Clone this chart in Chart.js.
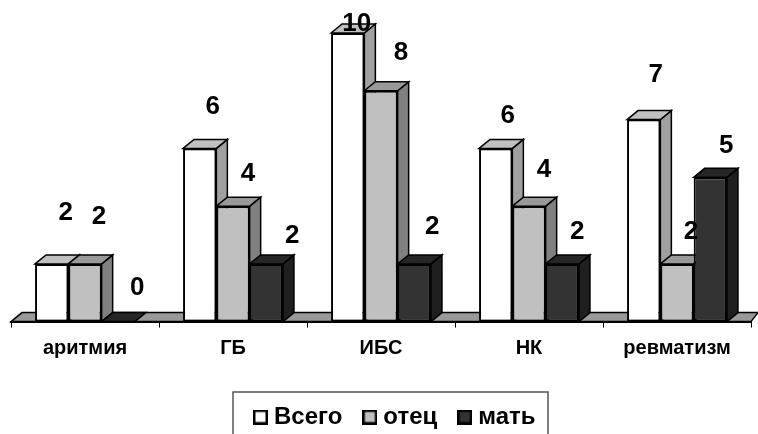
<!DOCTYPE html>
<html>
<head>
<meta charset="utf-8">
<style>
    body { margin: 0; background: #fff; overflow: hidden; }
    canvas { display: block; }
</style>
<script src="https://cdn.jsdelivr.net/npm/chart.js@4"></script>
</head>
<body>
<canvas id="chart" width="758" height="434"></canvas>
<script>
const categories = ['аритмия', 'ГБ', 'ИБС', 'НК', 'ревматизм'];
const vsego = [2, 6, 10, 6, 7];
const otec = [2, 4, 8, 4, 2];
const mat = [0, 2, 2, 2, 5];

// 3d depth of the bars and floor
const DX = 11;
const DY = 9;

// the value labels were moved by hand in the original, so each has its own shift
const labelShift = [
    [[14, -51], [13, -42], [9, -9], [12, -33], [12, -45]],
    [[14, -47], [15, -32], [20, -38], [15, -36], [14, -32]],
    [[19, -34], [26, -28], [18, -37], [15, -32], [16, -31]]
];

const faceColors = [
    { top: '#c0c0c0', side: '#a0a0a0' },
    { top: '#999999', side: '#808080' },
    { top: '#262626', side: '#1f1f1f' }
];

function face(ctx, points, fill) {
    ctx.beginPath();
    points.forEach((p, i) => i ? ctx.lineTo(p[0], p[1]) : ctx.moveTo(p[0], p[1]));
    ctx.closePath();
    ctx.fillStyle = fill;
    ctx.fill();
    ctx.lineWidth = 1.5;
    ctx.strokeStyle = '#000';
    ctx.stroke();
}

// legend marker, a canvas so the gap to the text can be tighter than boxWidth allows
function swatch(color, size) {
    const c = document.createElement('canvas');
    c.width = size;
    c.height = size;
    const ctx = c.getContext('2d');
    ctx.fillStyle = color;
    ctx.fillRect(0, 0, size, size);
    ctx.strokeStyle = '#000';
    ctx.lineWidth = 2.5;
    ctx.strokeRect(1.25, 1.25, size - 2.5, size - 2.5);
    return c;
}

const bars3d = {
    id: 'bars3d',
    afterLayout(chart) {
        // put the legend where the frame is
        const legend = chart.legend;
        legend.left = 233;
        legend.right = 758;
        legend.top = 379;
        legend.bottom = 434;
    },
    beforeDatasetsDraw(chart) {
        const ctx = chart.ctx;
        const { left, right, bottom } = chart.chartArea;
        ctx.save();

        // legend frame, cut off by the bottom of the picture
        ctx.strokeStyle = '#555';
        ctx.lineWidth = 1.5;
        ctx.beginPath();
        ctx.moveTo(233, 434);
        ctx.lineTo(233, 392);
        ctx.lineTo(548, 392);
        ctx.lineTo(548, 434);
        ctx.stroke();

        // floor
        face(ctx, [[left, bottom], [left + DX, bottom - DY], [right + DX - 4, bottom - DY], [right, bottom]], '#999999');

        // sides and tops go left to right, the next bar covers the previous side
        categories.forEach((c, i) => {
            chart.data.datasets.forEach((ds, d) => {
                const el = chart.getDatasetMeta(d).data[i];
                const x1 = el.x - el.width / 2;
                const x2 = el.x + el.width / 2;
                const y = el.y;
                const base = el.base;
                if (base > y) {
                    face(ctx, [[x2, y], [x2 + DX, y - DY], [x2 + DX, base - DY], [x2, base]], faceColors[d].side);
                }
                face(ctx, [[x1, y], [x1 + DX, y - DY], [x2 + DX, y - DY], [x2, y]], faceColors[d].top);
            });
        });
        ctx.restore();
    },
    afterDatasetsDraw(chart) {
        const ctx = chart.ctx;
        ctx.save();
        ctx.font = 'bold 26px "Liberation Sans"';
        ctx.fillStyle = '#000';
        ctx.textAlign = 'center';
        ctx.textBaseline = 'middle';
        chart.data.datasets.forEach((ds, d) => {
            chart.getDatasetMeta(d).data.forEach((el, i) => {
                const s = labelShift[d][i];
                ctx.fillText(ds.data[i], el.x + s[0], el.y + s[1]);
            });
        });
        ctx.restore();
    }
};

new Chart(document.getElementById('chart'), {
    type: 'bar',
    data: {
        labels: categories,
        datasets: [
            { label: 'Всего', data: vsego, backgroundColor: '#ffffff' },
            { label: 'отец', data: otec, backgroundColor: '#c0c0c0' },
            { label: 'мать', data: mat, backgroundColor: '#333333' }
        ]
    },
    options: {
        responsive: false,
        devicePixelRatio: 1,
        animation: false,
        layout: { padding: { left: 11, right: 7, top: 33, bottom: 4.4 } },
        datasets: {
            bar: {
                barPercentage: 1,
                categoryPercentage: 0.675,
                borderColor: '#000',
                borderWidth: 2,
                borderSkipped: false
            }
        },
        scales: {
            x: {
                grid: { drawOnChartArea: false, tickLength: 6, color: '#000' },
                border: { color: '#000', width: 2 },
                ticks: {
                    color: '#000',
                    padding: 9,
                    maxRotation: 0,
                    font: { family: '"Liberation Sans"', size: 20, weight: 'bold' }
                }
            },
            y: { display: false, min: 0, max: 10 }
        },
        plugins: {
            tooltip: { enabled: false },
            legend: {
                position: 'bottom',
                align: 'start',
                labels: {
                    color: '#000',
                    font: { family: '"Liberation Sans"', size: 24, weight: 'bold' },
                    usePointStyle: true,
                    pointStyleWidth: 3,
                    boxHeight: 15,
                    padding: 26,
                    generateLabels(chart) {
                        const items = Chart.defaults.plugins.legend.labels.generateLabels(chart);
                        items.forEach((item, d) => {
                            item.pointStyle = swatch(chart.data.datasets[d].backgroundColor, 15);
                        });
                        return items;
                    }
                }
            }
        }
    },
    plugins: [bars3d]
});
</script>
</body>
</html>
